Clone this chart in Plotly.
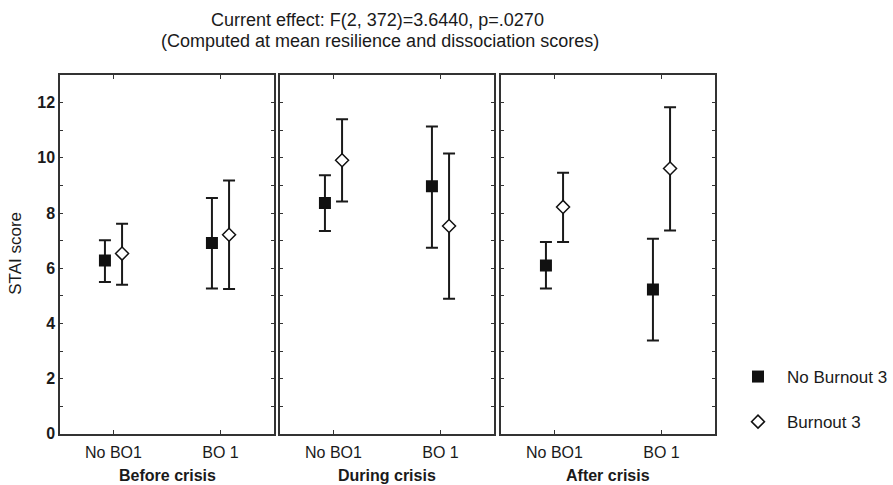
import numpy as np
import plotly.graph_objects as go

# ---- data ----
periods = ["Before crisis", "During crisis", "After crisis"]
categories = ["No BO1", "BO 1"]
series_names = ["No Burnout 3", "Burnout 3"]

# means / upper / lower per period, per category
no_bo3_mean = [[6.28, 6.91], [8.36, 8.97], [6.10, 5.23]]
no_bo3_upper = [[7.01, 8.54], [9.37, 11.13], [6.95, 7.07]]
no_bo3_lower = [[5.50, 5.26], [7.35, 6.74], [5.26, 3.38]]

bo3_mean = [[6.53, 7.21], [9.91, 7.53], [8.22, 9.61]]
bo3_upper = [[7.61, 9.18], [11.40, 10.16], [9.46, 11.83]]
bo3_lower = [[5.40, 5.25], [8.42, 4.89], [6.95, 7.37]]

y_ticks = [0, 2, 4, 6, 8, 10, 12]

# ---- layout geometry ----
W, H = 893, 485
px = lambda v: v / W
py = lambda v: 1 - v / H
panels_x = [(60, 274), (280, 494), (501, 715)]
y_top, y_bot = 75, 433.8
offset = 0.08

FONT = "Liberation Sans, Arial, sans-serif"
INK = "#1a1a1a"
FRAME = "#333333"

fig = go.Figure()

for i in range(3):
    xa = "x" if i == 0 else f"x{i+1}"
    ya = "y" if i == 0 else f"y{i+1}"
    idx = np.arange(len(categories))
    m = np.array(no_bo3_mean[i]); u = np.array(no_bo3_upper[i]); l = np.array(no_bo3_lower[i])
    fig.add_trace(go.Scatter(
        x=idx - offset, y=m, mode="markers", name=series_names[0],
        legendgroup="a", showlegend=(i == 0),
        marker=dict(symbol="square", size=12, color="#111111", line=dict(width=0)),
        error_y=dict(type="data", symmetric=False, array=u - m, arrayminus=m - l,
                     thickness=2, width=6, color=INK),
        xaxis=xa, yaxis=ya))
    m = np.array(bo3_mean[i]); u = np.array(bo3_upper[i]); l = np.array(bo3_lower[i])
    fig.add_trace(go.Scatter(
        x=idx + offset, y=m, mode="markers", name=series_names[1],
        legendgroup="b", showlegend=(i == 0),
        marker=dict(symbol="diamond", size=10, color="white", line=dict(width=1.5, color="#111111")),
        error_y=dict(type="data", symmetric=False, array=u - m, arrayminus=m - l,
                     thickness=2, width=6, color=INK),
        xaxis=xa, yaxis=ya))

layout = dict(
    width=W, height=H, autosize=False,
    margin=dict(l=0, r=0, t=0, b=0, pad=0, autoexpand=False),
    paper_bgcolor="white", plot_bgcolor="white",
    font=dict(family=FONT, color=INK, size=16),
    showlegend=True,
    legend=dict(x=px(729), y=py(359), xanchor="left", yanchor="top",
                font=dict(size=17, family=FONT, color=INK),
                itemwidth=48, tracegroupgap=20, bgcolor="rgba(0,0,0,0)"),
)

for i, (x0, x1) in enumerate(panels_x):
    xk = "xaxis" if i == 0 else f"xaxis{i+1}"
    yk = "yaxis" if i == 0 else f"yaxis{i+1}"
    xa_anchor = "y" if i == 0 else f"y{i+1}"
    ya_anchor = "x" if i == 0 else f"x{i+1}"
    layout[xk] = dict(
        domain=[px(x0), px(x1)], anchor=xa_anchor, range=[-0.5, 1.5],
        tickvals=list(range(len(categories))), ticktext=categories,
        ticks="inside", ticklen=4, tickwidth=1, tickcolor=FRAME,
        showline=True, linecolor=FRAME, linewidth=1.5, mirror="ticks",
        showgrid=False, zeroline=False, fixedrange=True, automargin=False,
        tickfont=dict(size=16, family=FONT, color=INK), ticklabelstandoff=3)
    layout[yk] = dict(
        domain=[py(y_bot), py(y_top)], anchor=ya_anchor, range=[0, 13],
        tickvals=y_ticks, ticks="inside", ticklen=3, tickwidth=1, tickcolor=FRAME,
        minor=dict(dtick=1, ticks="inside", ticklen=3, tickcolor=FRAME, showgrid=False),
        showline=True, linecolor=FRAME, linewidth=1.5, mirror="ticks",
        showgrid=False, zeroline=False, fixedrange=True, automargin=False,
        showticklabels=(i == 0),
        tickfont=dict(size=16, family=FONT, color=INK, weight="bold"))

fig.update_layout(**layout)

ann = []
for i, (x0, x1) in enumerate(panels_x):
    ann.append(dict(text=f"<b>{periods[i]}</b>", x=px((x0 + x1) / 2), y=py(475),
                    xref="paper", yref="paper", showarrow=False,
                    xanchor="center", yanchor="middle",
                    font=dict(size=16, family=FONT, color=INK)))
ann.append(dict(text="STAI score", x=px(16), y=py(253.8), xref="paper", yref="paper",
                showarrow=False, textangle=-90, xanchor="center", yanchor="middle",
                font=dict(size=17, family=FONT, color=INK)))
ann.append(dict(text="Current effect: F(2, 372)=3.6440, p=.0270", x=px(377), y=py(20),
                xref="paper", yref="paper", showarrow=False, xanchor="center", yanchor="middle",
                font=dict(size=18, family=FONT, color=INK)))
ann.append(dict(text="(Computed at mean resilience and dissociation scores)", x=px(380), y=py(41),
                xref="paper", yref="paper", showarrow=False, xanchor="center", yanchor="middle",
                font=dict(size=18, family=FONT, color=INK)))
fig.update_layout(annotations=ann)

fig.write_html("out.html",
               config={"responsive": False, "displayModeBar": False},
               post_script="document.body.style.margin='0';")
